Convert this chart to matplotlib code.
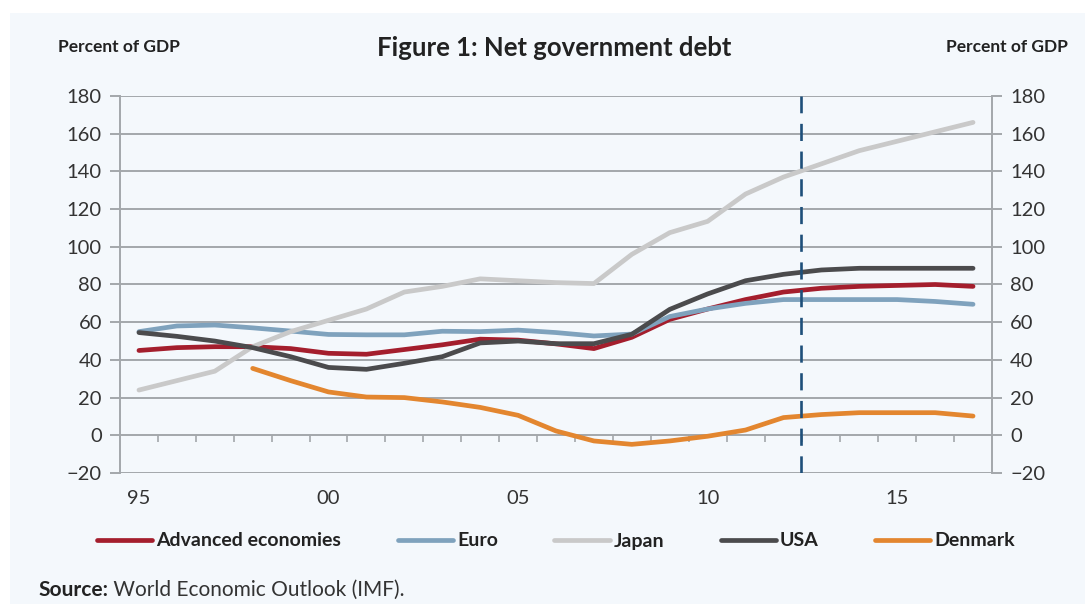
import matplotlib
matplotlib.use("Agg")
import matplotlib.pyplot as plt
from matplotlib.patches import Rectangle
import numpy as np

plt.rcParams['font.family'] = ['Lato', 'DejaVu Sans']

years = list(range(1995, 2018))
advanced = [45, 46.5, 47, 47, 46, 43.5, 43, 45.5, 48, 51, 50.5, 48.5, 46, 52, 61.5, 67, 72, 76, 78, 79, 79.5, 80, 79]
euro = [55, 58, 58.5, 57, 55.3, 53.5, 53.3, 53.3, 55.2, 55, 55.8, 54.5, 52.7, 53.7, 63, 67, 70, 72, 72, 72, 72, 71, 69.5]
japan = [24, 29, 34, 47, 55, 61, 67, 76, 79, 83, 82, 81, 80.5, 96, 107.5, 113.5, 128, 137, 144, 151, 156, 161, 166]
usa = [54.5, 52.5, 50, 46.5, 41.7, 36, 35, 38.2, 41.7, 49, 50, 48.6, 48.6, 53.6, 66.8, 75, 82, 85.4, 87.7, 88.6, 88.6, 88.6, 88.6]
denmark = [np.nan, np.nan, np.nan, 35.5, 29, 23, 20.3, 20, 17.7, 14.8, 10.6, 2.3, -3, -4.8, -3, -0.5, 2.8, 9.4, 11, 12, 12, 12, 10.2]

series_names = ['Advanced economies', 'Euro', 'Japan', 'USA', 'Denmark']
series_values = [advanced, euro, japan, usa, denmark]
series_colors = ['#A41E2D', '#7FA2BD', '#C9C9C9', '#4B4B4D', '#E3862F']

forecast_start = 2012.45
y_ticks = list(range(-20, 181, 20))
x_label_years = [1995, 2000, 2005, 2010, 2015]
x_tick_labels = ['95', '00', '05', '10', '15']

fig = plt.figure(figsize=(10.85, 6.04), dpi=100, facecolor='white')
fig.patches.append(Rectangle((10/1085, 0), 1, 1 - 13/604, transform=fig.transFigure,
                             facecolor='#F4F8FC', edgecolor='none', zorder=-10))

ax = fig.add_axes([120/1085, 1 - 473/604, 872/1085, 377/604])
ax.set_facecolor('none')

grid_color = '#A3A7AB'
for yv in y_ticks:
    ax.axhline(yv, color=grid_color, lw=1.4, zorder=1)

for i in range(len(series_names)):
    ax.plot(years, series_values[i], color=series_colors[i], lw=3.4,
            solid_capstyle='round', solid_joinstyle='round', label=series_names[i], zorder=3)

ax.axvline(forecast_start, color='#1E4F7A', lw=1.9, ls=(0, (6.5, 4)), zorder=4)

ax.set_xlim(1994.5, 2017.5)
ax.set_ylim(-20, 180)

for s in ['top', 'bottom']:
    ax.spines[s].set_visible(False)
for s in ['left', 'right']:
    ax.spines[s].set_color(grid_color)
    ax.spines[s].set_linewidth(1.4)

ax.set_yticks(y_ticks)
ax.tick_params(axis='y', which='both', left=True, right=True, labelleft=True, labelright=True,
               length=7, width=1.4, color=grid_color, labelsize=14.5, labelcolor='#333333', pad=6)
ax.set_xticks(x_label_years)
ax.set_xticklabels(x_tick_labels)
ax.tick_params(axis='x', length=0, labelsize=14.5, labelcolor='#333333', pad=12)

sec = ax.secondary_xaxis(0.1)
sec.set_xticks([y + 0.5 for y in years[:-1]])
sec.tick_params(axis='x', length=5, width=1.2, color=grid_color, labelbottom=False, direction='out')
sec.spines['bottom'].set_visible(False)

fig.text(58/1085, 1 - 47/604, 'Percent of GDP', fontsize=12.5, fontweight='bold',
         color='#222222', va='center', ha='left')
fig.text(1068/1085, 1 - 47/604, 'Percent of GDP', fontsize=12.5, fontweight='bold',
         color='#222222', va='center', ha='right')
fig.text(554/1085, 1 - 48/604, 'Figure 1: Net government debt', fontsize=18.5, fontweight='bold',
         color='#222222', va='center', ha='center')

leg = fig.legend(*ax.get_legend_handles_labels(), loc='center', bbox_to_anchor=(556/1085, 1 - 541/604),
                 ncol=5, frameon=False, handlelength=2.85, handletextpad=0.2,
                 columnspacing=2.9, prop={'weight': 'bold', 'size': 14})
for t in leg.get_texts():
    t.set_color('#222222')

t1 = fig.text(38/1085, 1 - 590/604, 'Source:', fontsize=15, fontweight='bold', color='#222222',
              va='center', ha='left')
ax.annotate(' World Economic Outlook (IMF).', xy=(1, 0.5), xycoords=t1, va='center', ha='left',
            fontsize=15, color='#333333', annotation_clip=False)

fig.savefig('out.png', dpi=100, facecolor='white')
